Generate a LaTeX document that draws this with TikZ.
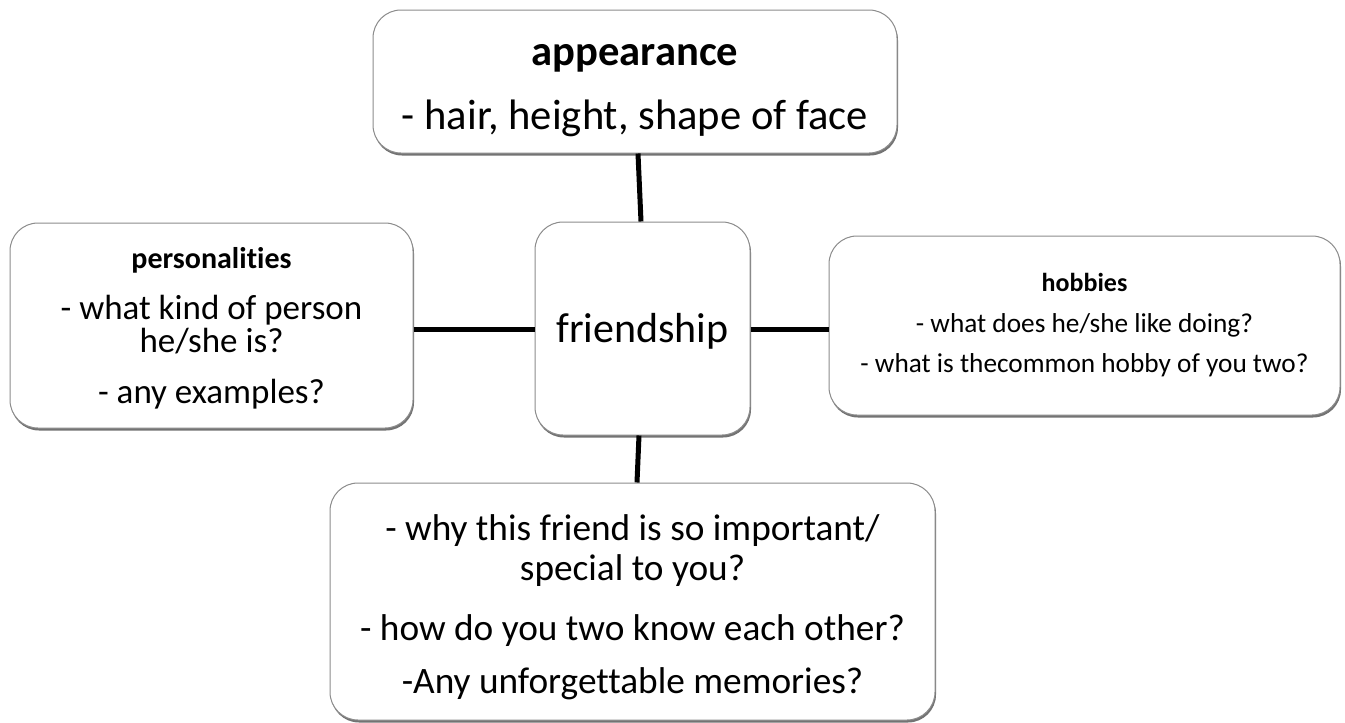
\documentclass[tikz,border=0pt]{standalone}
\usepackage{fontspec}
\setmainfont{Carlito}[Ligatures={NoCommon,NoRequired,NoContextual}]
\usetikzlibrary{shadows,calc}
\newcommand{\nolsk}{\lineskiplimit=-100pt\relax}
\tikzset{
  box/.style={rectangle, rounded corners=28pt, draw=black!45, line width=1pt, fill=white,
    align=center, inner sep=0pt, text=black,
    drop shadow={shadow xshift=1pt, shadow yshift=-2.5pt, fill=black!55, opacity=1}},
  conn/.style={line width=5pt, black},
}
\begin{document}
\begin{tikzpicture}[x=1pt,y=-1pt]
\useasboundingbox[fill=white] (0,0) rectangle (1345,723);

\node[box, minimum width=524pt, minimum height=143pt,
  font=\fontsize{42.6}{64}\selectfont\nolsk] (app) at (635,81.5)
  {\rule{0pt}{40pt}\textbf{appearance}\\- hair, height, shape of face};

\node[box, minimum width=215pt, minimum height=213pt,
  font=\fontsize{42}{50}\selectfont] (fr) at (642.5,328.5) {\rule{0pt}{35pt}friendship};

\node[box, minimum width=403pt, minimum height=205pt,
  font=\fontsize{35}{33}\selectfont\nolsk] (pers) at (211.5,325.5)
  {\rule{0pt}{26pt}{\bfseries\fontsize{30}{33}\selectfont personalities}\\[18pt]- what kind of person\\he/she is?\\[18pt]- any examples?};

\node[box, minimum width=511pt, minimum height=179pt,
  font=\fontsize{27.3}{40}\selectfont\nolsk] (hob) at (1084.5,325.5)
  {{\bfseries\fontsize{26}{40}\selectfont hobbies}\\[1pt]- what does he/she like doing?\\- what is thecommon hobby of you two?};

\node[box, minimum width=605pt, minimum height=237pt,
  font=\fontsize{37.3}{40}\selectfont\nolsk] (bot) at (632.5,601.5)
  {\rule{0pt}{37pt}- why this friend is so important/\\special to you?\\[20pt]- how do you two know each other?\\[13pt]-Any unforgettable memories?};

\draw[conn] ($(app.south)+(3,0)$) -- ($(fr.north)+(-1.5,0)$);
\draw[conn] ($(fr.south)+(-3.5,0)$) -- ($(bot.north)+(4.5,0)$);
\draw[conn] ($(pers.east)+(0,3.5)$) -- ($(fr.west)+(0,0.5)$);
\draw[conn] ($(fr.east)+(0,0.5)$) -- ($(hob.west)+(0,3.5)$);
\end{tikzpicture}
\end{document}
